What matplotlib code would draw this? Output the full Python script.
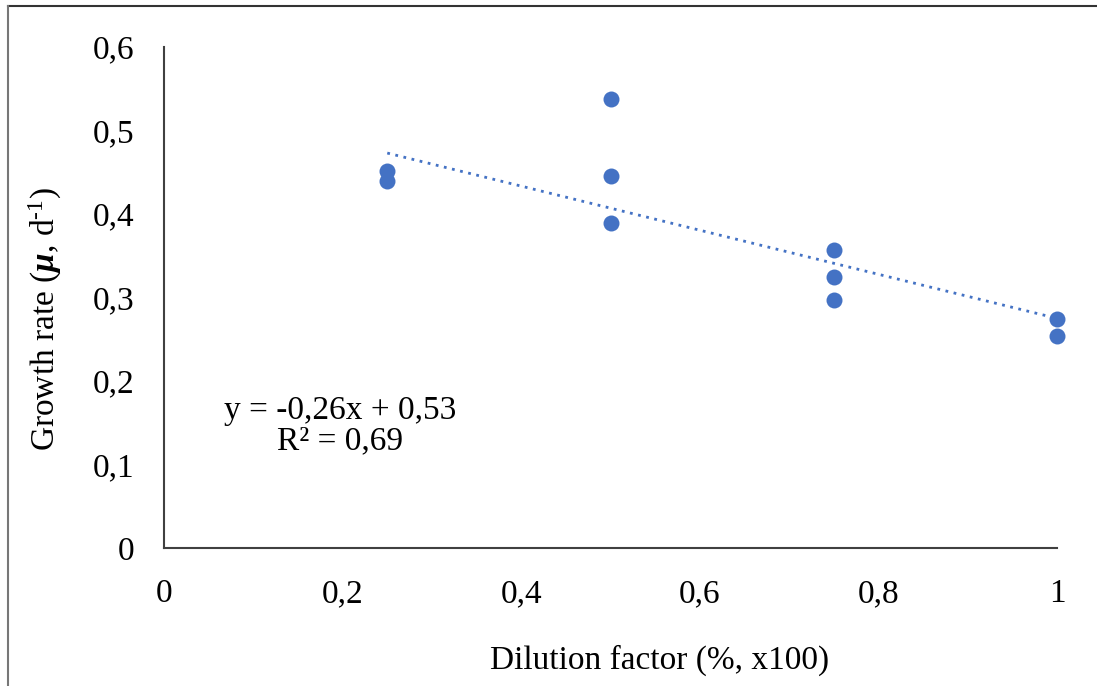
import matplotlib
matplotlib.use("Agg")
import matplotlib.pyplot as plt
import numpy as np

plt.rcParams['font.family'] = ['Liberation Serif', 'DejaVu Serif']
plt.rcParams['mathtext.fontset'] = 'custom'
plt.rcParams['mathtext.rm'] = 'Liberation Serif'
plt.rcParams['mathtext.it'] = 'Liberation Serif:italic'
plt.rcParams['mathtext.bf'] = 'Liberation Serif:bold'
plt.rcParams['mathtext.bfit'] = 'Liberation Serif:bold:italic'

# data
dilution = [0.25, 0.25, 0.5, 0.5, 0.5, 0.75, 0.75, 0.75, 1.0, 1.0]
growth = [0.451, 0.439, 0.538, 0.445, 0.389, 0.357, 0.324, 0.297, 0.274, 0.254]
trend_slope = -0.264
trend_intercept = 0.539
x_ticks = [0, 0.2, 0.4, 0.6, 0.8, 1.0]
x_labels = ['0', '0,2', '0,4', '0,6', '0,8', '1']
y_ticks = [0, 0.1, 0.2, 0.3, 0.4, 0.5, 0.6]
y_labels = ['0', '0,1', '0,2', '0,3', '0,4', '0,5', '0,6']

blue = '#4472C4'
W, H = 1097, 686
fig = plt.figure(figsize=(W / 100, H / 100), dpi=100)
ax = fig.add_axes([164 / W, 1 - 548 / H, (1057 - 164) / W, (548 - 47) / H])

ax.scatter(dilution, growth, s=11.5 ** 2, color=blue, zorder=3, clip_on=False, linewidths=0)

xt = np.array([min(dilution), max(dilution)])
ax.plot(xt, trend_slope * xt + trend_intercept, color=blue, lw=2.0,
        linestyle=(0, (1, 2)), dash_capstyle='butt', zorder=2)

ax.set_xlim(0, 1)
ax.set_ylim(0, 0.6)
ax.set_xticks(x_ticks)
ax.set_xticklabels(x_labels)
ax.set_yticks(y_ticks)
ax.set_yticklabels(y_labels)
ax.tick_params(length=0, labelsize=24, colors='black')
ax.tick_params(axis='x', pad=22)
ax.tick_params(axis='y', pad=21)
for s in ['top', 'right']:
    ax.spines[s].set_visible(False)
for s in ['left', 'bottom']:
    ax.spines[s].set_color('#404040')
    ax.spines[s].set_linewidth(1.5)

fig.text(660 / W, 1 - 660 / H, 'Dilution factor (%, x100)', fontsize=24,
         ha='center', va='center')
fig.text(45 / W, 1 - 319 / H, r'Growth rate ($\mathbfit{\mu}$, d$^{\text{-}1}$)',
         fontsize=24, rotation=90, ha='center', va='center')
fig.text(340 / W, 1 - 426 / H, 'y = -0,26x + 0,53\nR² = 0,69', fontsize=24,
         ha='center', va='center', multialignment='center', linespacing=1.0)

# frame around the figure
fig.add_artist(plt.Line2D([8 / W, 1], [1 - 6 / H, 1 - 6 / H], color='#333333', lw=1.5))
fig.add_artist(plt.Line2D([8 / W, 8 / W], [0, 1 - 6 / H], color='#777777', lw=1.5))

fig.savefig('out.png', dpi=100)
